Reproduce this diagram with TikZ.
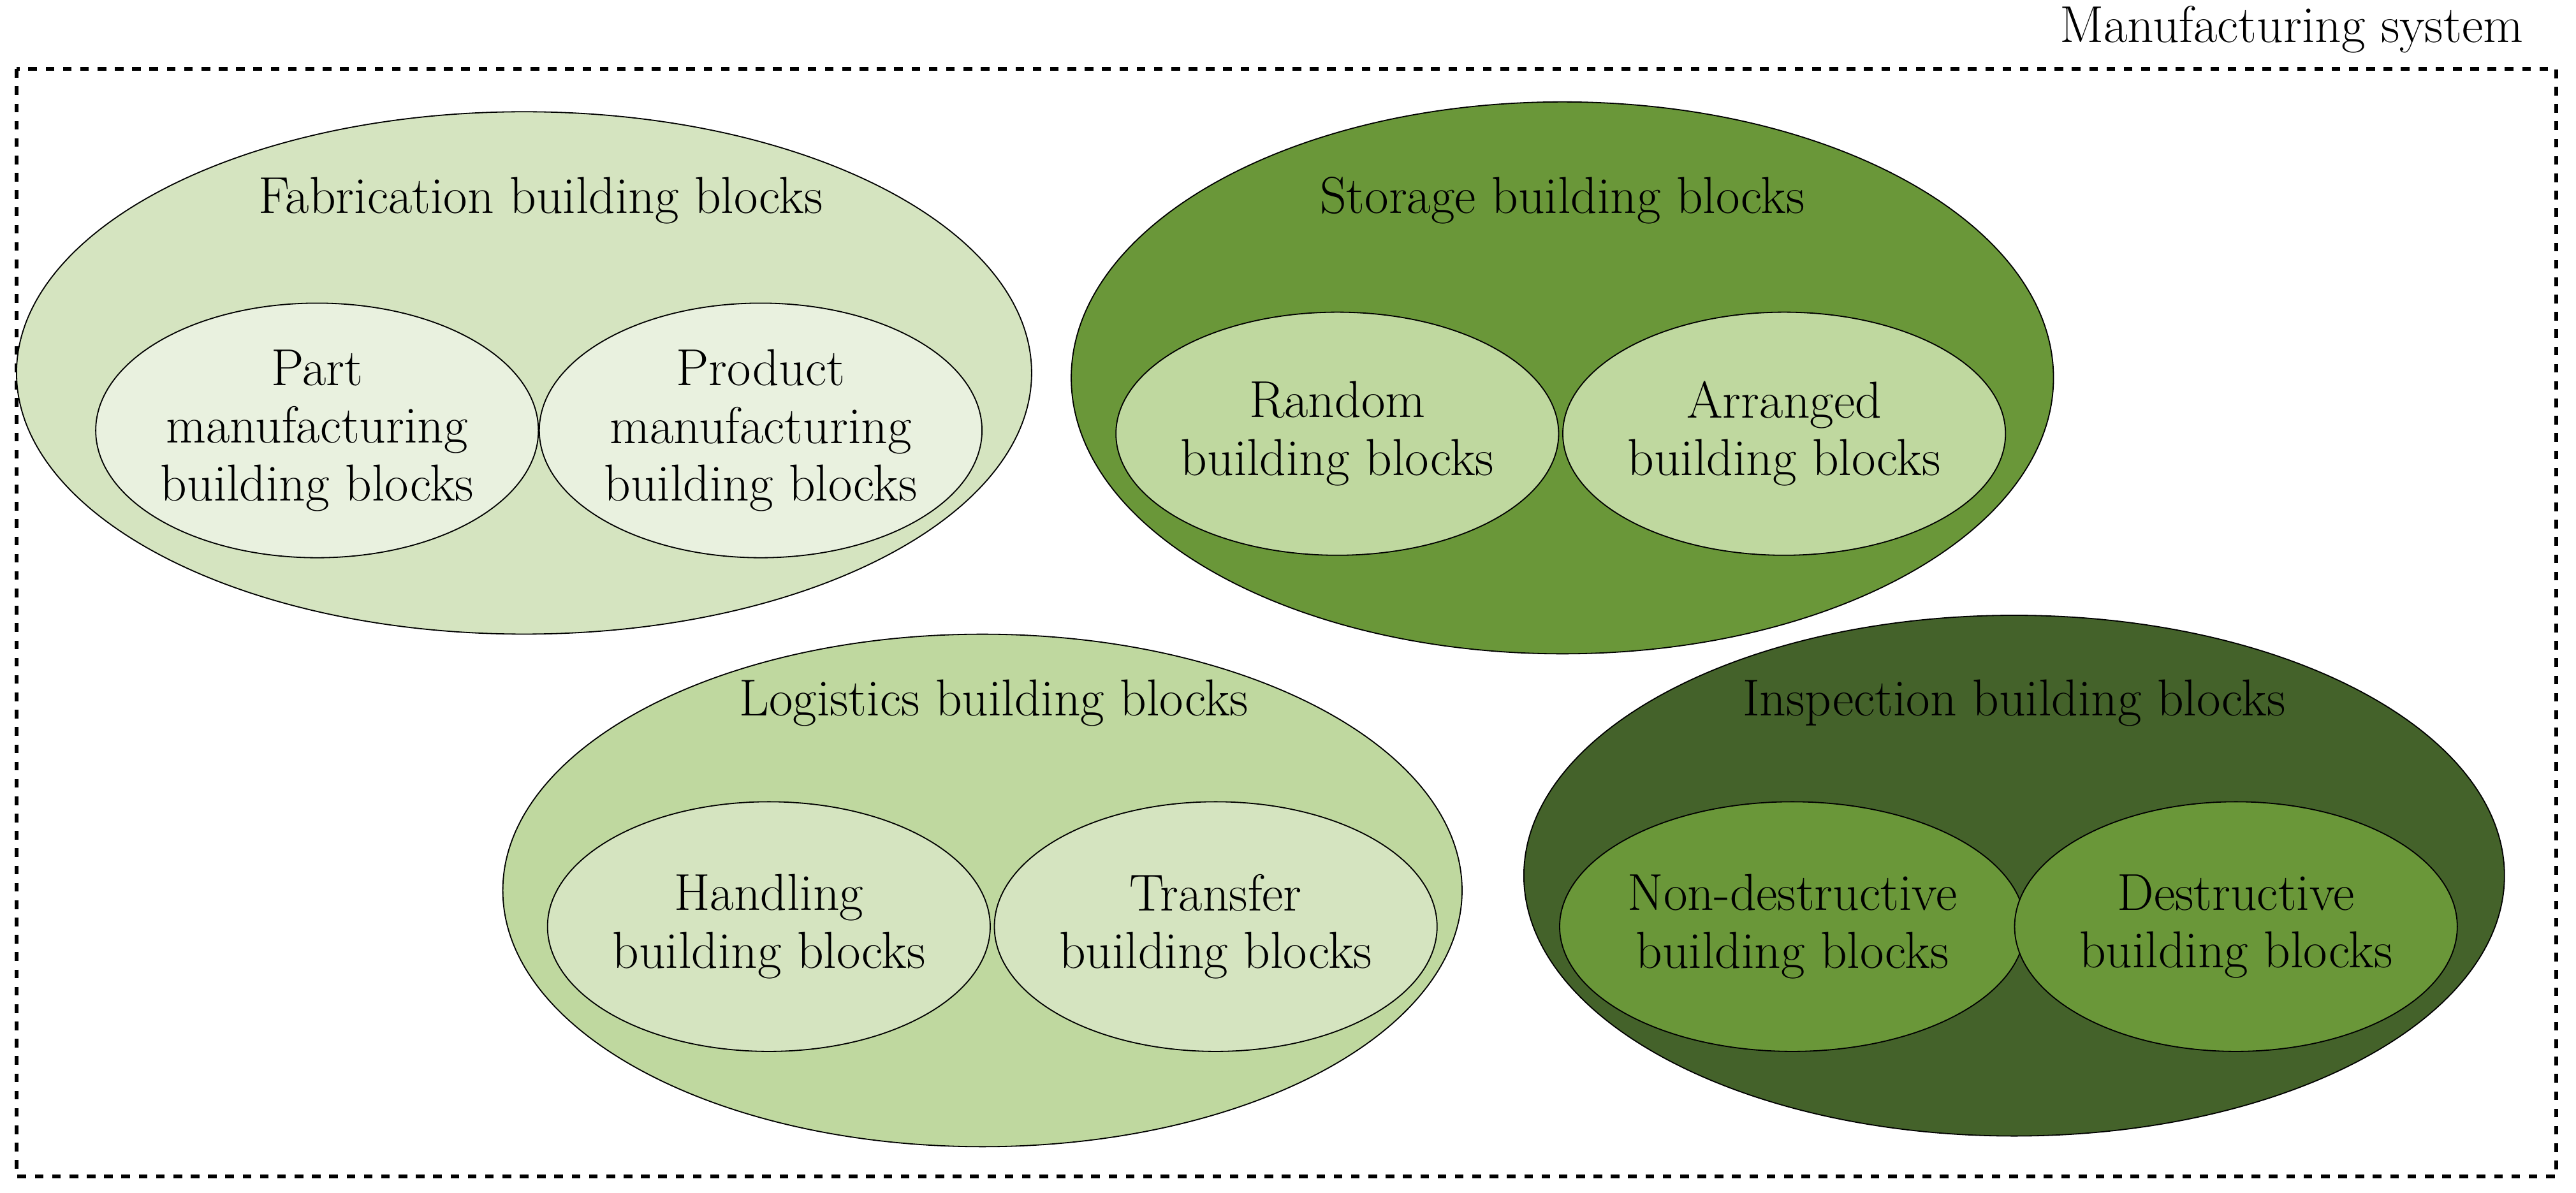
\documentclass[tikz,border=0pt]{standalone}
\usepackage{tikz}
\usetikzlibrary{shapes.geometric}
\definecolor{fabO}{HTML}{D5E4C0}
\definecolor{fabI}{HTML}{E9F1DF}
\definecolor{stoO}{HTML}{6A9739}
\definecolor{stoI}{HTML}{BFD89F}
\definecolor{insO}{HTML}{44622A}
\begin{document}
\begin{tikzpicture}[x=0.02cm,y=-0.02cm,
  ell/.style={ellipse,draw=black,line width=0.4pt,inner sep=0pt},
  txt/.style={font=\fontsize{18}{20}\selectfont,align=center,text=black}]
\useasboundingbox (0,0) rectangle (1568,726);
\node[txt,anchor=east] (ms) at (1542,18) {Manufacturing system};
\draw[dashed,line width=1.3pt] (10,42) rectangle (1556,716);
% Fabrication
\node[ell,fill=fabO,minimum width=12.36cm,minimum height=6.36cm] (fab) at (319,227) {};
\node[txt] (fabT) at (329,122) {Fabrication building blocks};
\node[ell,fill=fabI,minimum width=5.2cm,minimum height=3.1cm,txt] (part) at (193,262) {Part\\manufacturing\\building blocks};
\node[ell,fill=fabI,minimum width=5.2cm,minimum height=3.1cm,txt] (prod) at (463,262) {Product\\manufacturing\\building blocks};
% Storage
\node[ell,fill=stoO,minimum width=11.96cm,minimum height=6.72cm] (sto) at (951,230) {};
\node[txt] (stoT) at (951,122) {Storage building blocks};
\node[ell,fill=stoI,minimum width=5.2cm,minimum height=2.96cm,txt] (rand) at (814,264) {Random\\building blocks};
\node[ell,fill=stoI,minimum width=5.2cm,minimum height=2.96cm,txt] (arr) at (1086,264) {Arranged\\building blocks};
% Logistics
\node[ell,fill=stoI,minimum width=11.68cm,minimum height=6.24cm] (log) at (598,542) {};
\node[txt] (logT) at (605,428) {Logistics building blocks};
\node[ell,fill=fabO,minimum width=5.2cm,minimum height=3.04cm,txt] (hand) at (468,564) {Handling\\building blocks};
\node[ell,fill=fabO,minimum width=5.2cm,minimum height=3.04cm,txt] (tran) at (740,564) {Transfer\\building blocks};
% Inspection
\node[ell,fill=insO,minimum width=11.94cm,minimum height=6.34cm] (ins) at (1226,533) {};
\node[txt] (insT) at (1226,428) {Inspection building blocks};
\node[ell,fill=stoO,minimum width=5.24cm,minimum height=3.04cm,txt] (nond) at (1091,564) {Non-destructive\\building blocks};
\node[ell,fill=stoO,minimum width=5.24cm,minimum height=3.04cm,txt] (dest) at (1361,564) {Destructive\\building blocks};
\end{tikzpicture}
\end{document}
